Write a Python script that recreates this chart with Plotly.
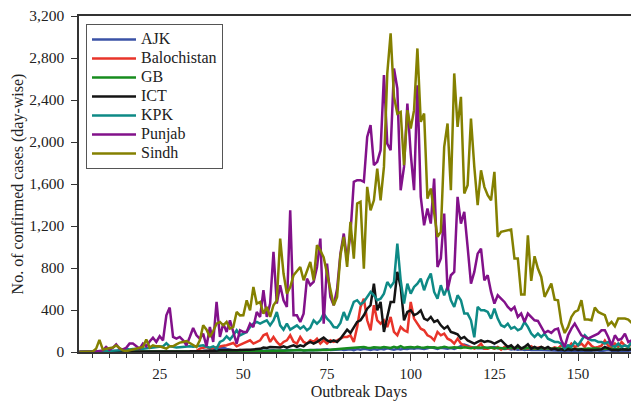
import plotly.graph_objects as go

days = list(range(1, 169))

ajk = [0,0,0,0,0,0,0,0,0,0,
       0,0,2,0,3,0,2,0,0,3,
       2,3,5,3,2,4,5,3,2,5,
       4,6,5,3,8,5,6,10,8,12,
       15,25,38,42,30,20,15,12,18,15,
       12,15,10,14,18,12,15,20,16,12,
       15,18,14,20,16,18,22,15,20,18,
       16,22,18,20,25,18,22,20,25,18,
       22,25,18,28,22,30,25,20,28,22,
       30,25,35,28,22,30,25,32,28,35,
       30,38,32,28,35,45,38,30,40,35,
       32,38,30,42,55,70,60,45,40,35,
       38,32,40,45,48,35,30,28,32,25,
       28,22,25,20,24,18,22,20,18,16,
       18,15,16,14,12,15,13,10,12,14,
       12,10,14,12,16,12,10,14,18,12,
       10,12,14,10,12,15,12,10]

balochistan = [0,0,0,0,0,0,0,0,0,0,
       0,0,0,0,0,0,0,0,0,0,
       0,0,2,0,2,0,3,2,0,3,
       2,3,2,4,3,10,32,40,48,32,
       40,48,54,60,64,75,86,54,70,80,
       96,111,80,96,111,159,175,96,143,96,
       64,96,111,159,96,80,143,96,80,111,
       96,127,80,111,80,111,96,111,127,143,
       143,159,96,238,429,508,302,207,445,302,
       270,302,238,334,191,159,238,207,191,477,
       318,270,222,207,159,143,111,191,159,175,
       127,111,80,127,80,64,48,48,32,48,
       80,32,32,42,32,48,22,48,32,40,
       32,48,30,40,32,54,32,40,48,32,
       40,30,45,35,64,48,40,80,48,60,
       80,48,96,60,40,48,60,110,60,48,
       80,50,96,60,48,80,96,60]

gb = [0,0,0,0,0,0,0,0,0,0,
      0,2,0,3,2,0,3,2,4,3,
      5,3,4,6,4,5,3,6,5,4,
      6,5,7,5,6,8,6,7,5,8,
      6,8,7,9,8,10,8,7,9,10,
      8,10,12,9,11,10,12,14,11,13,
      15,12,14,16,13,15,18,14,16,20,
      18,16,20,22,18,20,24,22,26,30,
      35,38,42,40,45,48,40,38,45,42,
      40,48,45,38,50,42,55,40,45,48,
      42,50,44,40,48,42,45,38,42,50,
      44,40,46,42,38,44,40,36,42,38,
      40,44,38,42,36,40,38,34,40,36,
      38,42,36,34,40,38,35,32,38,36,
      34,38,32,36,30,34,38,32,30,35,
      32,28,34,30,36,32,28,34,30,32,
      28,32,30,26,32,28,30,26]

ict = [0,0,0,0,0,0,0,0,0,0,
       0,0,0,0,0,0,0,0,0,0,
       2,3,2,4,3,5,4,6,5,4,
       6,5,7,6,8,7,8,10,12,10,
       15,12,16,14,16,18,15,16,20,18,
       22,22,25,32,30,42,38,48,45,48,
       42,54,42,54,64,48,64,54,80,96,
       80,96,118,137,111,96,111,96,127,169,
       213,181,232,286,302,350,413,445,651,397,
       477,191,334,477,477,763,620,302,381,397,
       350,366,397,318,302,334,286,302,254,222,
       245,191,181,169,127,143,111,96,80,96,
       111,96,105,96,80,96,112,80,48,64,
       32,64,32,48,73,32,48,32,48,32,
       48,25,32,20,25,16,25,20,28,20,
       25,18,22,20,18,22,25,48,30,20,
       22,18,25,20,22,25,20,25]

kpk = [0,0,0,0,0,0,2,5,8,10,
       12,15,22,20,32,25,28,32,30,32,
       35,38,42,45,50,54,83,54,50,42,
       45,48,52,54,50,54,58,64,50,42,
       54,32,96,111,150,118,160,207,159,175,
       191,238,270,286,270,286,302,254,300,381,
       254,213,270,213,238,254,222,245,207,232,
       302,270,302,366,318,286,238,232,277,381,
       302,381,477,493,455,477,524,572,540,493,
       508,556,667,620,667,1033,683,461,651,556,
       620,651,699,588,683,747,572,508,636,540,
       620,493,429,540,493,366,366,302,140,430,
       397,397,381,318,413,318,255,239,270,223,
       239,207,223,286,239,175,143,175,143,175,
       127,112,96,96,80,32,64,48,96,64,
       112,159,127,112,112,96,96,80,96,64,
       48,80,48,64,48,96,48,64]

punjab = [0,0,0,0,0,5,10,15,48,22,
          40,73,32,25,40,80,80,54,32,80,
          54,100,137,96,150,111,350,423,143,127,
          143,111,64,143,229,159,127,175,54,238,
          96,477,143,270,191,302,191,80,207,191,
          191,270,238,381,334,588,334,461,953,461,
          636,492,429,1350,349,349,286,365,699,636,
          667,810,1080,270,842,524,445,600,937,1128,
          874,1128,1620,1636,1636,1620,2049,2160,1779,1811,
          1922,2637,1985,1922,2700,2510,1541,1763,2367,1890,
          1541,2541,1477,1207,1366,1223,1652,810,890,1318,
          588,731,763,1477,1223,1334,1001,651,763,937,
          985,683,731,572,461,541,509,477,429,398,
          429,334,366,286,366,334,302,296,239,182,
          201,182,213,223,112,48,159,223,270,207,
          159,143,127,143,159,175,207,207,143,64,
          159,112,127,175,95,112,80,159]

sindh = [0,0,0,0,5,30,115,25,30,30,
         42,62,40,15,8,16,25,32,40,48,
         120,42,64,54,54,42,32,54,54,73,
         89,96,105,86,64,48,111,254,213,143,
         200,270,286,254,286,222,238,381,349,350,
         492,397,620,461,477,365,429,334,445,492,
         1080,747,556,619,731,770,810,683,762,858,
         683,1017,969,900,747,600,445,525,921,1096,
         810,1239,890,1414,1430,794,1573,1350,1445,1747,
         1445,1763,2653,3034,2430,2271,2287,1779,2303,2128,
         2303,2891,2192,2271,1461,1557,1318,1096,1144,1954,
         2176,1541,2653,2144,2430,1509,1588,2224,1763,1398,
         1731,1573,1493,1445,1716,1096,1144,1150,1160,1166,
         890,890,547,547,1112,677,912,795,715,525,
         588,652,499,493,277,181,239,334,382,398,
         493,309,309,302,423,382,366,350,255,287,
         245,318,318,318,309,277,327,175]

names = ["AJK", "Balochistan", "GB", "ICT", "KPK", "Punjab", "Sindh"]
colors = ["#3a52a6", "#e8342a", "#178c1e", "#141414", "#0e8a86", "#82118a", "#848000"]
data = [ajk, balochistan, gb, ict, kpk, punjab, sindh]

x_ticks = [25, 50, 75, 100, 125, 150]
y_ticks = [0, 400, 800, 1200, 1600, 2000, 2400, 2800, 3200]

FONT = "Liberation Serif"
fig = go.Figure()
for name, vals, col in zip(names, data, colors):
    fig.add_trace(go.Scatter(
        x=days, y=vals, mode="lines",
        name="<span style='font-size:16px'>" + name + "</span>",
        line=dict(color=col, width=2.5),
    ))

# The page body adds an 8px offset, so the figure is 8px smaller on each axis.
fig.update_layout(
    width=631, height=398,
    margin=dict(l=71, r=0, t=8, b=54),
    paper_bgcolor="white", plot_bgcolor="white",
    font=dict(family=FONT, size=15, color="#222"),
    legend=dict(
        x=0.0125, y=0.976, xanchor="left", yanchor="top",
        bordercolor="#555", borderwidth=1, bgcolor="white",
        font=dict(family=FONT, size=12, color="#222"),
        itemwidth=44, tracegroupgap=0,
    ),
    xaxis=dict(
        range=[0.9, 168.2], tickvals=x_ticks, automargin=False,
        ticks="outside", ticklen=7, tickwidth=1.2, tickcolor="#333",
        showline=True, linecolor="#333", linewidth=1.5, mirror=True,
        showgrid=False, zeroline=False,
        tickfont=dict(family=FONT, size=15, color="#222"),
        minor=dict(dtick=5, tick0=0, ticks="outside", ticklen=4, tickcolor="#333", tickwidth=1),
        title=dict(text="Outbreak Days", font=dict(family=FONT, size=16, color="#222"), standoff=5),
    ),
    yaxis=dict(
        range=[0, 3200], tickvals=y_ticks, tickformat=",", automargin=False,
        ticklabeloverflow="allow",
        ticks="outside", ticklen=6, tickwidth=1.2, tickcolor="#333",
        showline=True, linecolor="#333", linewidth=1.5,
        showgrid=False, zeroline=False, ticklabelstandoff=4,
        tickfont=dict(family=FONT, size=15.5, color="#222"),
        title=dict(text="No. of confirmed cases (day-wise)", font=dict(family=FONT, size=16, color="#222"), standoff=2),
    ),
)

fig.write_html("out.html")
